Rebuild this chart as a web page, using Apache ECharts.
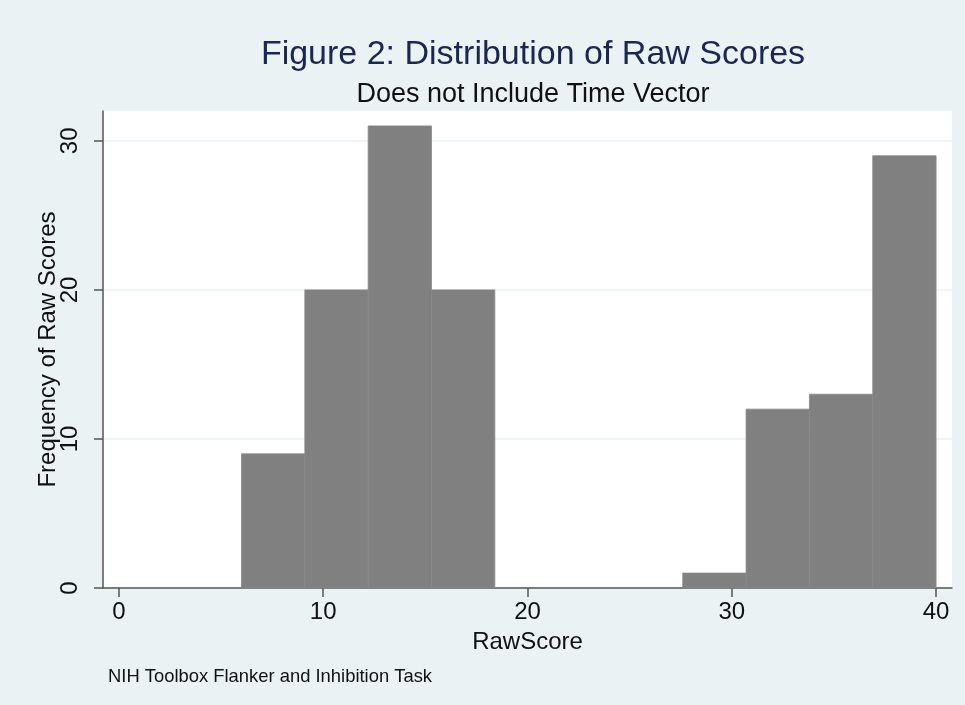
<!DOCTYPE html>
<html>
<head>
<meta charset="utf-8">
<script src="https://cdn.jsdelivr.net/npm/echarts@6/dist/echarts.min.js"></script>
<style>
html,body{margin:0;padding:0;background:#eaf2f3;}
#chart{width:965px;height:705px;}
</style>
</head>
<body>
<div id="chart"></div>
<script>
// Histogram bin edges (RawScore) and frequencies
var binEdges = [6.0, 9.1, 12.2, 15.3, 18.4, 21.5, 24.5, 27.6, 30.7, 33.8, 36.9, 40.0];
var frequencies = [9, 20, 31, 20, 0, 0, 0, 1, 12, 13, 29];
var xTicks = [0, 10, 20, 30, 40];
var yTicks = [0, 10, 20, 30];

var titleText = 'Figure 2: Distribution of Raw Scores';
var subtitleText = 'Does not Include Time Vector';
var noteText = 'NIH Toolbox Flanker and Inhibition Task';

var bins = [];
for (var i = 0; i < frequencies.length; i++) {
  bins.push([binEdges[i], binEdges[i + 1], frequencies[i]]);
}

var FONT = '"Liberation Sans", Arial, Helvetica, sans-serif';
var chart = echarts.init(document.getElementById('chart'), null, {renderer: 'canvas'});
chart.setOption({
  backgroundColor: '#eaf2f3',
  animation: false,
  textStyle: {fontFamily: FONT},
  title: [
    {text: titleText, left: 528, top: 33, textAlign: 'center',
     textStyle: {fontFamily: FONT, fontSize: 34, fontWeight: 'normal', color: '#1c2653'}},
    {text: subtitleText, left: 528, top: 76, textAlign: 'center',
     textStyle: {fontFamily: FONT, fontSize: 27, fontWeight: 'normal', color: '#111'}},
    {text: noteText, left: 103, top: 663,
     textStyle: {fontFamily: FONT, fontSize: 18.4, fontWeight: 'normal', color: '#111'}}
  ],
  grid: {left: 103, right: 13, top: 111, bottom: 117, show: true,
         backgroundColor: '#ffffff', borderWidth: 0},
  xAxis: {
    type: 'value', min: -0.78, max: 40.78,
    name: 'RawScore', nameLocation: 'middle', nameGap: 42, nameMoveOverlap: false,
    nameTextStyle: {fontFamily: FONT, fontSize: 24, color: '#111'},
    axisLine: {show: true, onZero: false, lineStyle: {color: '#555', width: 1.5}},
    axisTick: {show: true, length: 9, customValues: xTicks, lineStyle: {color: '#555', width: 1.5}},
    axisLabel: {customValues: xTicks, margin: 12, fontFamily: FONT, fontSize: 24, color: '#111'},
    splitLine: {show: false}
  },
  yAxis: {
    type: 'value', min: 0, max: 32, interval: 10,
    name: 'Frequency of Raw Scores', nameLocation: 'middle', nameGap: 55, nameRotate: 90,
    nameMoveOverlap: false,
    nameTextStyle: {fontFamily: FONT, fontSize: 24, color: '#111', verticalAlign: 'middle'},
    axisLine: {show: true, onZero: false, lineStyle: {color: '#555', width: 1.5}},
    axisTick: {show: true, length: 9, customValues: yTicks, lineStyle: {color: '#555', width: 1.5}},
    axisLabel: {customValues: yTicks, rotate: 90, margin: 21, fontFamily: FONT, fontSize: 24, color: '#111'},
    splitLine: {show: true, lineStyle: {color: '#eaf2f3', width: 1.5}}
  },
  series: [{
    type: 'custom',
    data: bins,
    encode: {x: [0, 1], y: 2},
    renderItem: function (params, api) {
      var x0 = api.value(0), x1 = api.value(1), v = api.value(2);
      if (!v) return null;
      var p0 = api.coord([x0, v]);
      var p1 = api.coord([x1, 0]);
      return {
        type: 'rect',
        shape: {x: p0[0], y: p0[1], width: p1[0] - p0[0], height: p1[1] - p0[1]},
        style: {fill: '#808080', stroke: '#888888', lineWidth: 0.8}
      };
    }
  }]
});
</script>
</body>
</html>
